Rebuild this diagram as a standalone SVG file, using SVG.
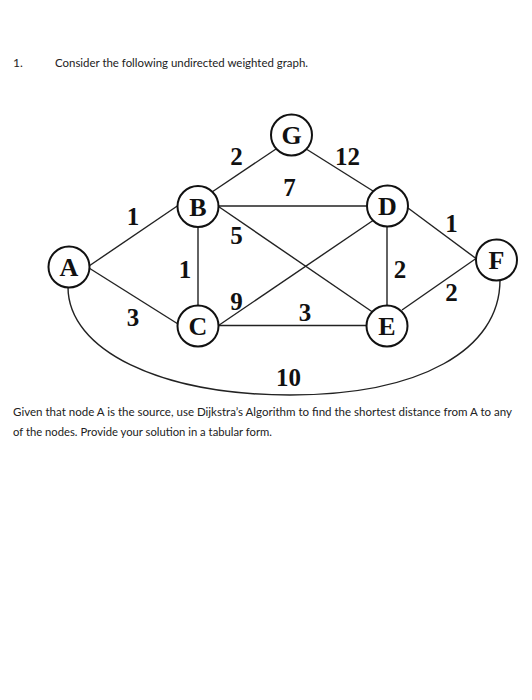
<svg xmlns="http://www.w3.org/2000/svg" width="532" height="700" viewBox="0 0 532 700">
<style>
.t{font-family:Lato,"Liberation Sans",sans-serif;font-size:12px;fill:#222}
.e{stroke:#222;stroke-width:1.4;fill:none}
.n circle{fill:#fff;stroke:#111;stroke-width:2}
.n text{font-family:"Liberation Serif","Times New Roman",serif;font-weight:bold;font-size:26px;text-anchor:middle;fill:#111}
.w{font-family:"Liberation Serif","Times New Roman",serif;font-weight:bold;font-size:25px;text-anchor:middle;fill:#111}
</style>
<rect width="532" height="700" fill="#fff"/>
<text class="t" x="13" y="67">1.</text>
<text class="t" x="55" y="67" textLength="253" lengthAdjust="spacingAndGlyphs">Consider the following undirected weighted graph.</text>
<text class="t" x="13" y="416" textLength="499" lengthAdjust="spacingAndGlyphs">Given that node A is the source, use Dijkstra’s Algorithm to find the shortest distance from A to any</text>
<text class="t" x="13" y="436" textLength="259" lengthAdjust="spacingAndGlyphs">of the nodes. Provide your solution in a tabular form.</text>
<g id="edges">
<line class="e" x1="89" y1="266" x2="178" y2="205.5"/>
<line class="e" x1="89" y1="268" x2="178" y2="324"/>
<line class="e" x1="212" y1="192" x2="276" y2="149"/>
<line class="e" x1="307" y1="149.5" x2="373" y2="191"/>
<line class="e" x1="218" y1="206" x2="368" y2="206"/>
<line class="e" x1="218.5" y1="206.5" x2="372.5" y2="312"/>
<line class="e" x1="198" y1="227" x2="198" y2="305.5"/>
<line class="e" x1="218.5" y1="325.5" x2="373" y2="220.5"/>
<line class="e" x1="218.5" y1="325.5" x2="366.5" y2="325.5"/>
<line class="e" x1="387" y1="226.5" x2="387" y2="305.5"/>
<line class="e" x1="408" y1="208" x2="476" y2="258.5"/>
<line class="e" x1="402" y1="310" x2="476" y2="258.5"/>
<path class="e" d="M68,287 C68,350 160,395 290,395 C420,395 500,350 500,280"/>
</g>
<g id="weights">
<text class="w" x="236.5" y="165">2</text>
<text class="w" x="347.5" y="165">12</text>
<text class="w" x="289.5" y="196">7</text>
<text class="w" x="133" y="225">1</text>
<text class="w" x="133" y="325.5">3</text>
<text class="w" x="236.5" y="243.5">5</text>
<text class="w" x="185" y="277.5">1</text>
<text class="w" x="236.5" y="310">9</text>
<text class="w" x="305" y="320.5">3</text>
<text class="w" x="400" y="277.5">2</text>
<text class="w" x="451.5" y="231.5">1</text>
<text class="w" x="451.5" y="300.5">2</text>
<text class="w" x="288.5" y="385.5">10</text>
</g>
<g id="A" class="n"><circle cx="69" cy="267" r="20.5"/><text x="69" y="276">A</text></g>
<g id="B" class="n"><circle cx="198" cy="206.5" r="20.5"/><text x="198" y="215.5">B</text></g>
<g id="C" class="n"><circle cx="198" cy="326" r="20.5"/><text x="198" y="335">C</text></g>
<g id="D" class="n"><circle cx="387.5" cy="206" r="20.5"/><text x="387.5" y="215">D</text></g>
<g id="E" class="n"><circle cx="387" cy="326" r="20.5"/><text x="387" y="335">E</text></g>
<g id="F" class="n"><circle cx="496.5" cy="260" r="20.5"/><text x="496.5" y="269">F</text></g>
<g id="G" class="n"><circle cx="291.5" cy="135" r="20.5"/><text x="291.5" y="144">G</text></g>
</svg>
